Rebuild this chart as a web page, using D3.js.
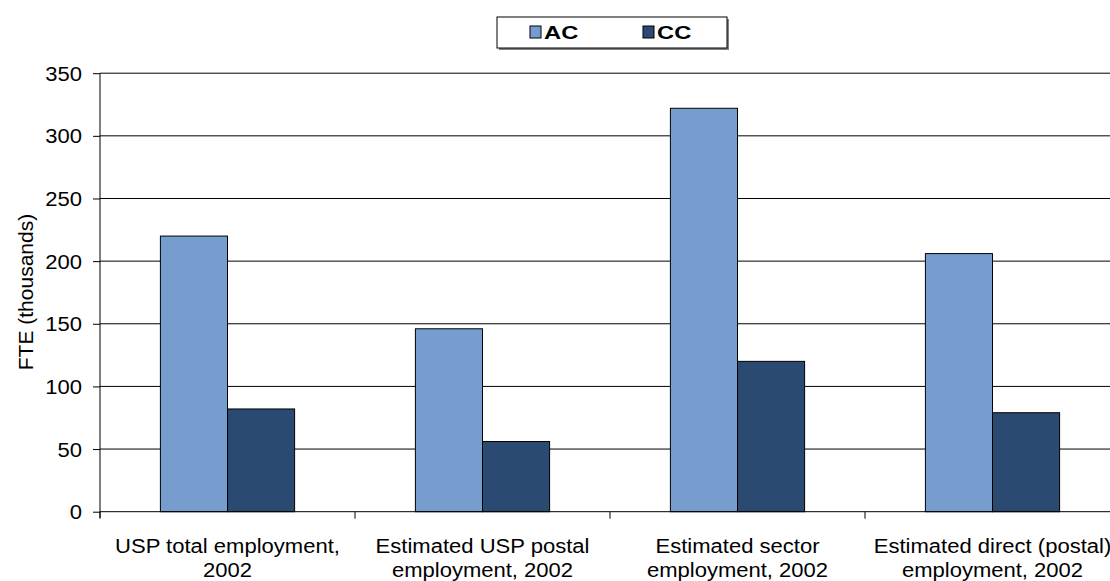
<!DOCTYPE html>
<html>
<head>
<meta charset="utf-8">
<script src="https://cdn.jsdelivr.net/npm/d3@7"></script>
<style>
  html, body { margin: 0; padding: 0; background: #fff; }
  svg { display: block; font-family: "Liberation Sans", Arial, sans-serif; }
</style>
</head>
<body>
<svg id="chart" width="1110" height="581"></svg>
<script>
// Employment data (FTE, thousands)
const categories = [
  "USP total employment, 2002",
  "Estimated USP postal employment, 2002",
  "Estimated sector employment, 2002",
  "Estimated direct (postal) employment, 2002"
];
const categoryLines = [
  ["USP total employment,", "2002"],
  ["Estimated USP postal", "employment, 2002"],
  ["Estimated sector", "employment, 2002"],
  ["Estimated direct (postal)", "employment, 2002"]
];
const seriesNames = ["AC", "CC"];
const acValues = [220, 146, 322, 206];
const ccValues = [82, 56, 120, 79];
const yTicks = [0, 50, 100, 150, 200, 250, 300, 350];

const colors = { AC: "#759ecf", CC: "#2a4a72" };

const svg = d3.select("#chart");
const W = 1110, H = 581;
const plot = { left: 100, right: 1120, top: 73.2, bottom: 511.7 };
const textScaleX = 1.13;

const x = d3.scaleBand().domain(categories).range([plot.left, plot.right]).padding(0);
const xs = d3.scaleBand().domain(seriesNames).range([0, x.bandwidth()])
  .paddingInner(0).paddingOuter(0.9);
const y = d3.scaleLinear().domain([0, 350]).range([plot.bottom, plot.top]);

const rows = categories.map((c, i) => ({ cat: c, AC: acValues[i], CC: ccValues[i] }));

// horizontal gridlines
svg.append("g").selectAll("line").data(yTicks.filter(t => t > 0)).join("line")
  .attr("x1", plot.left).attr("x2", W)
  .attr("y1", d => y(d)).attr("y2", d => y(d))
  .attr("stroke", "#000").attr("stroke-width", 1);

// bars
const groups = svg.append("g").selectAll("g").data(rows).join("g")
  .attr("transform", d => `translate(${x(d.cat)},0)`);
groups.selectAll("rect").data(d => seriesNames.map(s => ({ s, v: d[s] }))).join("rect")
  .attr("x", d => xs(d.s))
  .attr("width", xs.bandwidth())
  .attr("y", d => y(d.v))
  .attr("height", d => y(0) - y(d.v))
  .attr("fill", d => colors[d.s])
  .attr("stroke", "#000").attr("stroke-width", 1);

// y axis
const yAxis = svg.append("g").attr("transform", `translate(${plot.left},0)`)
  .call(d3.axisLeft(y).tickValues(yTicks).tickSize(7).tickPadding(11).tickFormat(d3.format("d")));
yAxis.select(".domain").attr("stroke", "#000").attr("d", `M0,${plot.bottom + 6}V${plot.top}`);
yAxis.selectAll(".tick line").attr("stroke", "#000");
yAxis.selectAll(".tick text")
  .attr("font-size", 19.5).attr("fill", "#000")
  .attr("dy", null).attr("x", null)
  .attr("text-anchor", "end")
  .attr("transform", `translate(-18,7) scale(${textScaleX},1)`);

// x axis
const xAxis = svg.append("g").attr("transform", `translate(0,${plot.bottom})`);
xAxis.append("line").attr("x1", plot.left).attr("x2", W).attr("y1", 0).attr("y2", 0)
  .attr("stroke", "#000");
const boundaries = categories.map(c => x(c)).concat([x.range()[1]]);
xAxis.selectAll("line.tk").data(boundaries).join("line").attr("class", "tk")
  .attr("x1", d => d).attr("x2", d => d).attr("y1", 0).attr("y2", 7)
  .attr("stroke", "#000");

// category labels
const labels = svg.append("g").selectAll("g").data(categories).join("g")
  .attr("transform", c => `translate(${x(c) + x.bandwidth() / 2},0)`);
labels.each(function (c, i) {
  d3.select(this).selectAll("text").data(categoryLines[i]).join("text")
    .attr("text-anchor", "middle")
    .attr("font-size", 19.5).attr("fill", "#000")
    .attr("transform", (d, j) => `translate(0,${553 + j * 24}) scale(${textScaleX},1)`)
    .text(d => d);
});

// y axis title
svg.append("text")
  .attr("transform", "translate(33,292) rotate(-90)")
  .attr("text-anchor", "middle")
  .attr("font-size", 21).attr("fill", "#000")
  .text("FTE (thousands)");

// legend
const lg = svg.append("g").attr("transform", "translate(497,17)");
lg.append("rect").attr("x", 2).attr("y", 2).attr("width", 230).attr("height", 31).attr("fill", "#808080");
lg.append("rect").attr("x", 0).attr("y", 0).attr("width", 230).attr("height", 31)
  .attr("fill", "#fff").attr("stroke", "#000");
const items = lg.selectAll("g.item").data(seriesNames).join("g").attr("class", "item")
  .attr("transform", (d, i) => `translate(${33 + i * 113},9)`);
items.append("rect").attr("width", 11).attr("height", 12)
  .attr("fill", d => colors[d]).attr("stroke", "#000");
items.append("text")
  .attr("transform", `translate(14,12.5) scale(1.25,1)`)
  .attr("font-size", 19).attr("font-weight", "bold").attr("fill", "#000")
  .text(d => d);
</script>
</body>
</html>
